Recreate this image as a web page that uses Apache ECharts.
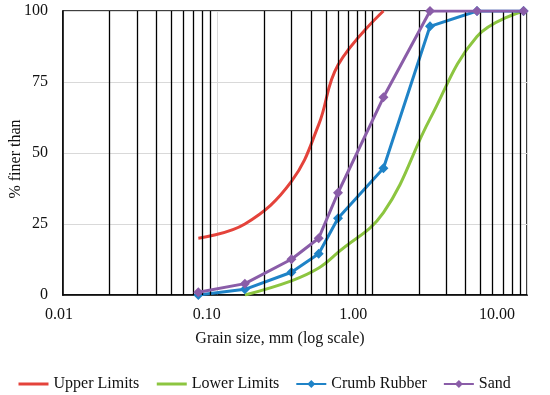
<!DOCTYPE html>
<html>
<head>
<meta charset="utf-8">
<script src="https://cdn.jsdelivr.net/npm/echarts@6/dist/echarts.min.js"></script>
<style>html,body{margin:0;padding:0;background:#fff}#c{width:550px;height:395px}</style>
</head>
<body>
<div id="c"></div>
<script>
// ---- data ----
const sieveSizes = [0.075, 0.15, 0.3, 0.45, 0.6, 1.18, 2.36, 4.75, 9.5];
const upperSizes = [0.075, 0.15, 0.3, 0.45, 0.6, 1.18];
const upperLimits = [20, 25, 40, 60, 81, 100];
const lowerSizes = [0.15, 0.3, 0.45, 0.6, 1.18, 2.36, 4.75, 9.5];
const lowerLimits = [0, 5, 9.5, 15, 29, 62, 91, 100];
const crumbRubber = [0, 2, 8, 14.5, 27, 44.6, 94.6, 100, 100];
const sand = [1, 4, 12.6, 20, 36, 69.6, 100, 100, 100];
const xTickLabels = ['0.01', '0.10', '1.00', '10.00'];
const yTicks = [0, 25, 50, 75, 100];
const minorGridValues = [0.02,0.03,0.04,0.05,0.06,0.07,0.08,0.09,
  0.2,0.3,0.4,0.5,0.6,0.7,0.8,0.9,1,2,3,4,5,6,7,8,9];
const seriesNames = ['Upper Limits', 'Lower Limits', 'Crumb Rubber', 'Sand'];

const FONT = 'Liberation Serif';
const RED = '#E4433B', GREEN = '#8CC540', BLUE = '#1F83C7', PURPLE = '#8A5DA8';
const labelShift = {'0.01': 8, '0.10': 22, '1.00': 38, '10.00': 60};
const pair = (xs, ys) => xs.map((x, i) => [x, ys[i]]);

const chart = echarts.init(document.getElementById('c'), null, {renderer: 'canvas'});
const rich = {};
xTickLabels.forEach((t, i) => {
  rich['l' + i] = {fontFamily: FONT, fontSize: 16, color: '#111', padding: [0, labelShift[t], 0, 0]};
});
chart.setOption({
  animation: false,
  grid: {left: 63, right: 23, top: 11, bottom: 100, containLabel: false, outerBoundsMode: 'none',
    show: true, borderColor: '#000', borderWidth: 1.5},
  xAxis: {
    type: 'log', logBase: 10, min: 0.01, max: 10,
    name: 'Grain size, mm (log scale)', nameLocation: 'middle', nameGap: 36, nameMoveOverlap: false,
    nameTextStyle: {fontFamily: FONT, fontSize: 16, color: '#111', padding: [0, 30, 0, 0]},
    axisLine: {show: true, lineStyle: {color: '#000', width: 1.5}},
    axisTick: {show: false},
    splitLine: {show: true, lineStyle: {color: '#d9d9d9', width: 1}},
    axisLabel: {
      margin: 12, hideOverlap: false,
      formatter: function (v) {
        const t = Number(v).toFixed(2);
        const i = xTickLabels.indexOf(t);
        return i >= 0 ? '{l' + i + '|' + t + '}' : '';
      },
      rich: rich
    }
  },
  yAxis: {
    type: 'value', min: yTicks[0], max: yTicks[yTicks.length - 1], interval: 25,
    name: '% finer than', nameLocation: 'middle', nameGap: 39, nameMoveOverlap: false,
    nameTextStyle: {fontFamily: FONT, fontSize: 16, color: '#111', padding: [0, 12, 0, 0]},
    axisLine: {show: true, lineStyle: {color: '#000', width: 1.5}},
    axisTick: {show: false},
    splitLine: {show: true, lineStyle: {color: '#d9d9d9', width: 1}},
    axisLabel: {margin: 15, fontFamily: FONT, fontSize: 16, color: '#111'}
  },
  legend: {
    left: 12, top: 371, itemWidth: 30, itemHeight: 10, itemGap: 16,
    textStyle: {fontFamily: FONT, fontSize: 16, color: '#111'},
    data: [
      {name: seriesNames[0], itemStyle: {color: 'rgba(0,0,0,0)', borderColor: 'rgba(0,0,0,0)', borderWidth: 0},
        lineStyle: {color: RED, width: 3}},
      {name: seriesNames[1], itemStyle: {color: 'rgba(0,0,0,0)', borderColor: 'rgba(0,0,0,0)', borderWidth: 0},
        lineStyle: {color: GREEN, width: 3}},
      {name: seriesNames[2]},
      {name: seriesNames[3]}
    ]
  },
  series: [
    {
      type: 'line', name: '__grid', data: [], z: 1, silent: true,
      markLine: {
        silent: true, symbol: 'none', label: {show: false},
        lineStyle: {color: '#000', width: 1.3, type: 'solid'},
        data: minorGridValues.map(v => ({xAxis: v}))
      }
    },
    {
      type: 'line', name: seriesNames[0], data: pair(upperSizes, upperLimits), z: 3,
      smooth: 0.4, showSymbol: false, symbol: 'none',
      lineStyle: {color: RED, width: 3}, itemStyle: {color: RED}
    },
    {
      type: 'line', name: seriesNames[1], data: pair(lowerSizes, lowerLimits), z: 3,
      smooth: 0.4, showSymbol: false, symbol: 'none',
      lineStyle: {color: GREEN, width: 3}, itemStyle: {color: GREEN}
    },
    {
      type: 'line', name: seriesNames[2], data: pair(sieveSizes, crumbRubber), z: 4,
      symbol: 'diamond', symbolSize: 10,
      lineStyle: {color: BLUE, width: 3}, itemStyle: {color: BLUE}
    },
    {
      type: 'line', name: seriesNames[3], data: pair(sieveSizes, sand), z: 5,
      symbol: 'diamond', symbolSize: 10,
      lineStyle: {color: PURPLE, width: 3}, itemStyle: {color: PURPLE}
    }
  ]
});
</script>
</body>
</html>
